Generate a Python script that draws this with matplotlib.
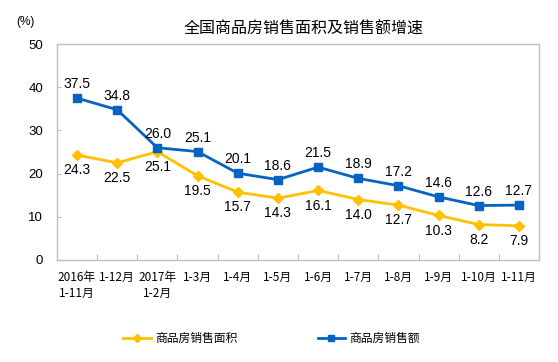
import matplotlib
matplotlib.use('Agg')
import matplotlib.pyplot as plt
from matplotlib.lines import Line2D

plt.rcParams['font.family'] = ['Liberation Sans', 'Noto Sans CJK SC', 'DejaVu Sans']

# data
periods = ['2016年\n1-11月', '1-12月', '2017年\n1-2月', '1-3月', '1-4月', '1-5月',
           '1-6月', '1-7月', '1-8月', '1-9月', '1-10月', '1-11月']
area = [24.3, 22.5, 25.1, 19.5, 15.7, 14.3, 16.1, 14.0, 12.7, 10.3, 8.2, 7.9]
sales = [37.5, 34.8, 26.0, 25.1, 20.1, 18.6, 21.5, 18.9, 17.2, 14.6, 12.6, 12.7]
yticks = [0, 10, 20, 30, 40, 50]

yellow = '#FFC000'
blue = '#0563C1'
gray = '#BFBFBF'
cjk = ['Noto Sans CJK SC', 'DejaVu Sans']

fig = plt.figure(figsize=(5.58, 3.62), dpi=100)
ax = fig.add_axes([0.102, 0.282, 0.864, 0.596])

x = list(range(len(periods)))
ax.plot(x, area, color=yellow, lw=2, marker='D', ms=5, mfc=yellow, mec=yellow)
ax.plot(x, sales, color=blue, lw=2, marker='s', ms=5.5, mfc=blue, mec=blue)

# value labels: sales above, area below
for i in x:
    ax.annotate('{:.1f}'.format(sales[i]), (i, sales[i]), xytext=(0, 10),
                textcoords='offset points', ha='center', va='center', fontsize=10)
    ax.annotate('{:.1f}'.format(area[i]), (i, area[i]), xytext=(0, -11),
                textcoords='offset points', ha='center', va='center', fontsize=10)

ax.set_xlim(-0.5, len(periods) - 0.5)
ax.set_ylim(0, 50)
ax.set_yticks(yticks)
ax.set_yticklabels([str(v) for v in yticks], fontsize=9.5)
ax.tick_params(axis='y', direction='in', length=3, color=gray, pad=10)

# category boundary ticks, labels centred between them
ax.set_xticks([i - 0.5 for i in range(1, len(periods))])
ax.set_xticklabels([])
ax.set_xticks(x, minor=True)
ax.set_xticklabels(periods, minor=True, fontsize=8.5, family=cjk, linespacing=1.25)
ax.tick_params(axis='x', which='major', direction='in', length=4, color=gray)
ax.tick_params(axis='x', which='minor', length=0, pad=8)

for s in ax.spines.values():
    s.set_color(gray)
    s.set_linewidth(1)

fig.text(0.544, 0.918, '全国商品房销售面积及销售额增速', ha='center', va='center',
         fontsize=11.5, family=cjk)
fig.text(0.046, 0.94, '(%)', ha='center', va='center', fontsize=8.5)

handles = [Line2D([], [], color=yellow, lw=2, marker='D', ms=4),
           Line2D([], [], color=blue, lw=2, marker='s', ms=4.5)]
fig.legend(handles, ['商品房销售面积', '商品房销售额'], loc='center',
           bbox_to_anchor=(0.487, 0.064), ncol=2, frameon=False,
           prop={'family': cjk, 'size': 8.5},
           handlelength=2.3, handletextpad=0.4, columnspacing=6.8)

fig.savefig('out.png', dpi=100)
